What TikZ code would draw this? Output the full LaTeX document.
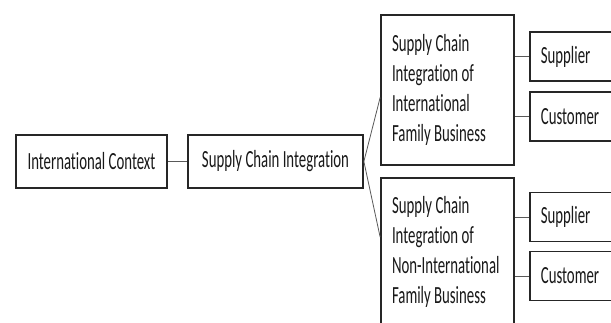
\documentclass[tikz,border=0pt]{standalone}
\usepackage{fontspec}
\setmainfont{Carlito}[FakeStretch=0.6,Ligatures=NoCommon]
\usetikzlibrary{calc}
\newcommand\plainspaces{\spaceskip=0pt \xspaceskip=0pt \relax}

\begin{document}
\begin{tikzpicture}[x=0.75pt,y=-0.75pt,
        box/.style={draw=black!85,line width=1.3pt,inner sep=0pt,text=black!90,
            font=\fontsize{18.5}{22.5}\selectfont},
        sidebox/.style={box,anchor=west,minimum height=36.75pt,text width=60pt,
            inner xsep=8.25pt,align=left},
        link/.style={draw=black!65,line width=0.6pt}]
        \clip (0,0) rectangle (611,322);
        \fill[white] (0,0) rectangle (611,322);

        \node[box,minimum width=113.25pt,minimum height=39.75pt] (ctx) at (91.5,161.5) {International Context};
        \node[box,minimum width=131.25pt,minimum height=39.75pt] (sci) at (275.5,161.5) {Supply Chain Integration};

        \node[box,minimum width=99.75pt,minimum height=112.5pt,text width=83.25pt,align=left] (ifb) at (447.5,90)
            {\plainspaces Supply Chain\\Integration of\\International\\Family Business};
        \node[box,minimum width=99.75pt,minimum height=111pt,text width=83.25pt,align=left] (nfb) at (447.5,252)
            {\plainspaces Supply Chain\\Integration of\\Non-International\\Family Business};

        \node[sidebox] (isup) at (529,56.5) {Supplier};
        \node[sidebox] (icus) at (529,116.5) {Customer};
        \node[sidebox] (nsup) at (529,217) {Supplier};
        \node[sidebox] (ncus) at (529,276) {Customer};

        \draw[link] (ctx) -- (sci);
        \draw[link] (sci.east) -- ($(ifb.north west)!0.55!(ifb.south west)$);
        \draw[link] (sci.east) -- ($(nfb.north west)!0.4!(nfb.south west)$);
        \draw[link] (isup.west) -- (isup.west -| ifb.east);
        \draw[link] (icus.west) -- (icus.west -| ifb.east);
        \draw[link] (nsup.west) -- (nsup.west -| nfb.east);
        \draw[link] (ncus.west) -- (ncus.west -| nfb.east);
    \end{tikzpicture}
\end{document}
